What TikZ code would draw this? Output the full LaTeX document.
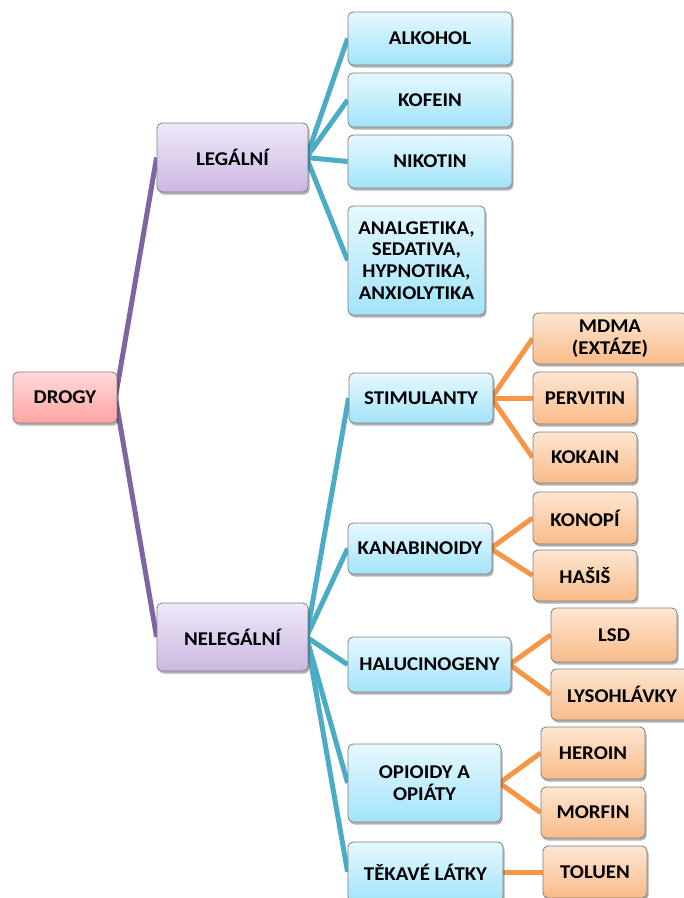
\documentclass[tikz,border=0pt]{standalone}
\usepackage{fontspec}
\setmainfont{Carlito}[FakeStretch=1.07]
\usetikzlibrary{shadows,backgrounds}
\definecolor{boxborder}{HTML}{7F7F7F}
\definecolor{pinkT}{HTML}{FFDADA}
\definecolor{pinkB}{HTML}{FFA3A3}
\definecolor{purT}{HTML}{EFE9F7}
\definecolor{purB}{HTML}{CBB7E2}
\definecolor{bluT}{HTML}{E6F8FE}
\definecolor{bluB}{HTML}{A2E4FA}
\definecolor{oraT}{HTML}{FDE6D2}
\definecolor{oraB}{HTML}{F9BB89}
\definecolor{purL}{HTML}{8064A2}
\definecolor{bluL}{HTML}{4BACC6}
\definecolor{oraL}{HTML}{F79646}
\begin{document}
\begin{tikzpicture}[x=1pt,y=-1pt,
  box/.style={draw=boxborder, line width=0.8pt, rounded corners=5pt,
    font=\bfseries\fontsize{19.5}{21.7}\selectfont, align=center, inner sep=0pt,
    drop shadow={shadow xshift=1.5pt, shadow yshift=-2.5pt, opacity=0.3, fill=black}},
  rootbox/.style={box, top color=pinkT, bottom color=pinkB},
  catbox/.style={box, top color=purT, bottom color=purB},
  subbox/.style={box, top color=bluT, bottom color=bluB},
  leafbox/.style={box, top color=oraT, bottom color=oraB},
  pline/.style={draw=purL, line width=5pt},
  bline/.style={draw=bluL, line width=5pt},
  oline/.style={draw=oraL, line width=5pt}]
\useasboundingbox (0,0) rectangle (684,898);
\clip (0,0) rectangle (684,898);
% root
\node[rootbox, minimum width=104, minimum height=51] (drogy) at (65,397.5) {DROGY};
% categories
\node[catbox, minimum width=151, minimum height=69] (leg) at (232.5,157.5) {LEGÁLNÍ};
\node[catbox, minimum width=151, minimum height=68] (neleg) at (232.5,637) {NELEGÁLNÍ};
% legal
\node[subbox, minimum width=164, minimum height=53] (alk) at (430,38.5) {ALKOHOL};
\node[subbox, minimum width=164, minimum height=54] (kof) at (430,100) {KOFEIN};
\node[subbox, minimum width=164, minimum height=53] (nik) at (430,161.5) {NIKOTIN};
\node[subbox, minimum width=137, minimum height=109] (ana) at (416.5,260.5) {ANALGETIKA,\\SEDATIVA,\\HYPNOTIKA,\\ANXIOLYTIKA};
% illegal
\node[subbox, minimum width=144, minimum height=50] (stim) at (421,398) {STIMULANTY};
\node[subbox, minimum width=144, minimum height=51] (kan) at (420,548.5) {KANABINOIDY};
\node[subbox, minimum width=163, minimum height=55] (hal) at (429.5,664.5) {HALUCINOGENY};
\node[subbox, minimum width=153, minimum height=78] (opi) at (424.5,783) {OPIOIDY A\\OPIÁTY};
\node[subbox, minimum width=155, minimum height=60] (tek) at (425.5,872) {TĚKAVÉ LÁTKY};
% leaves
\node[leafbox, minimum width=154, minimum height=51] (mdma) at (610,338.5) {MDMA\\(EXTÁZE)};
\node[leafbox, minimum width=104, minimum height=52] (perv) at (585,398) {PERVITIN};
\node[leafbox, minimum width=104, minimum height=51] (kok) at (585,457.5) {KOKAIN};
\node[leafbox, minimum width=104, minimum height=52] (kon) at (585,518) {KONOPÍ};
\node[leafbox, minimum width=104, minimum height=51] (has) at (585,575.5) {HAŠIŠ};
\node[leafbox, minimum width=126, minimum height=54] (lsd) at (614,635) {LSD};
\node[leafbox, minimum width=142, minimum height=51] (lys) at (622,694.5) {LYSOHLÁVKY};
\node[leafbox, minimum width=104, minimum height=52] (her) at (593,753) {HEROIN};
\node[leafbox, minimum width=104, minimum height=51] (mor) at (593,812.5) {MORFIN};
\node[leafbox, minimum width=104, minimum height=52] (tol) at (595,872) {TOLUEN};
\begin{pgfonlayer}{background}
\fill[white] (0,0) rectangle (684,898);
\draw[pline] ([xshift=-2pt]drogy.east) -- (leg.west);
\draw[pline] ([xshift=-2pt]drogy.east) -- (neleg.west);
\foreach \c in {alk,kof,nik,ana}
  \draw[bline] ([xshift=-2pt]leg.east) -- (\c.west);
\foreach \c in {stim,kan,hal,opi,tek}
  \draw[bline] ([xshift=-2pt]neleg.east) -- (\c.west);
\foreach \c in {mdma,perv,kok}
  \draw[oline] ([xshift=-2pt]stim.east) -- (\c.west);
\foreach \c in {kon,has}
  \draw[oline] ([xshift=-2pt]kan.east) -- (\c.west);
\foreach \c in {lsd,lys}
  \draw[oline] ([xshift=-2pt]hal.east) -- (\c.west);
\foreach \c in {her,mor}
  \draw[oline] ([xshift=-2pt]opi.east) -- (\c.west);
\draw[oline] ([xshift=-2pt]tek.east) -- (tol.west);
\end{pgfonlayer}
\end{tikzpicture}
\end{document}
